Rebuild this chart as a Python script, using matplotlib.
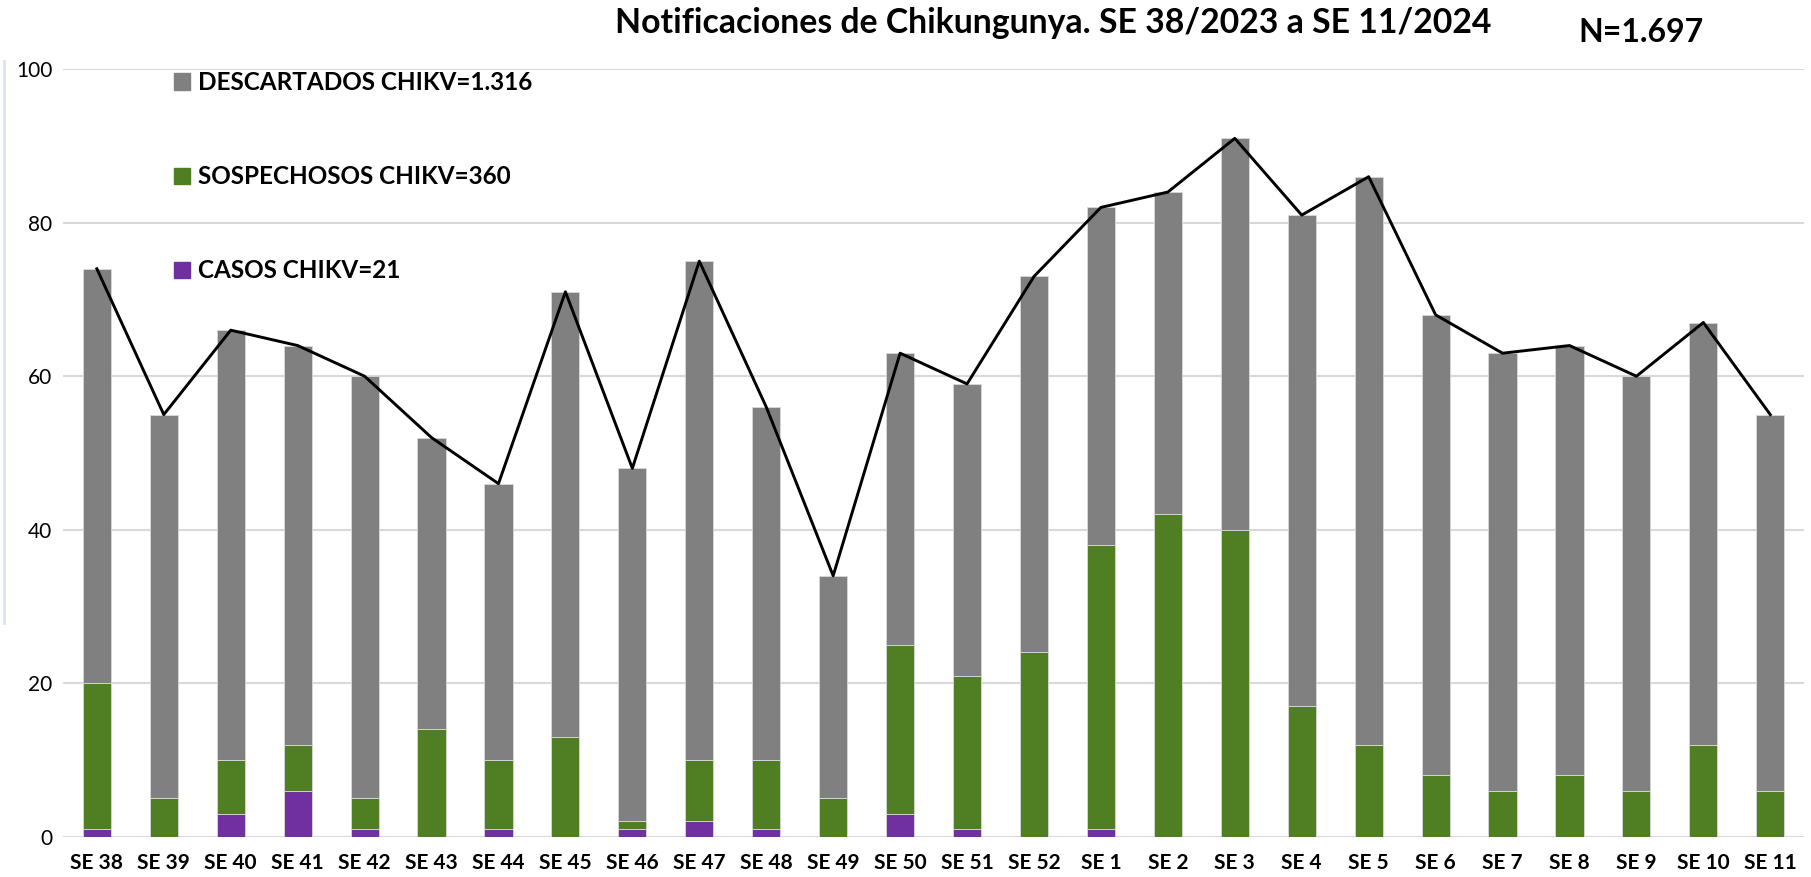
import matplotlib
matplotlib.use("Agg")
from matplotlib import pyplot as plt
from matplotlib.patches import Patch
from matplotlib.lines import Line2D
import numpy as np

weeks = ["SE 38", "SE 39", "SE 40", "SE 41", "SE 42", "SE 43", "SE 44", "SE 45",
         "SE 46", "SE 47", "SE 48", "SE 49", "SE 50", "SE 51", "SE 52", "SE 1",
         "SE 2", "SE 3", "SE 4", "SE 5", "SE 6", "SE 7", "SE 8", "SE 9", "SE 10", "SE 11"]
casos = [1, 0, 3, 6, 1, 0, 1, 0, 1, 2, 1, 0, 3, 1, 0, 1,
         0, 0, 0, 0, 0, 0, 0, 0, 0, 0]
sospechosos = [19, 5, 7, 6, 4, 14, 9, 13, 1, 8, 9, 5, 22, 20, 24, 37,
               42, 40, 17, 12, 8, 6, 8, 6, 12, 6]
totales = [74, 55, 66, 64, 60, 52, 46, 71, 48, 75, 56, 34, 63, 59, 73, 82,
           84, 91, 81, 86, 68, 63, 64, 60, 67, 55]
descartados = [t - s - c for t, s, c in zip(totales, sospechosos, casos)]

GRAY = "#808080"
GREEN = "#507E22"
PURPLE = "#7030A0"

plt.rcParams['font.family'] = ['Lato', 'DejaVu Sans']


def plot_chart():
    fig = plt.figure(figsize=(18.11, 8.77), dpi=100)
    ax = fig.add_axes([0.035, 0.046, 0.961, 0.875])
    x = np.arange(len(weeks))
    w = 0.42
    edge = dict(edgecolor="#d9d9d9", linewidth=0.6)
    ax.bar(x, casos, w, color=PURPLE, zorder=3, **edge)
    ax.bar(x, sospechosos, w, bottom=casos, color=GREEN, zorder=3, **edge)
    bottom2 = [c + s for c, s in zip(casos, sospechosos)]
    ax.bar(x, descartados, w, bottom=bottom2, color=GRAY, zorder=3, **edge)
    # linea del total semanal
    ax.plot(x, totales, color="black", linewidth=2.1, zorder=4)

    ax.set_xlim(-0.5, len(weeks) - 0.5)
    ax.set_ylim(0, 100)
    ax.set_yticks(range(0, 101, 20))
    ax.grid(axis="y", color="#d9d9d9", linewidth=1.5, zorder=0)
    for s in ax.spines.values():
        s.set_visible(False)
    ax.tick_params(length=0)
    ax.tick_params(axis="y", labelsize=15, pad=8)
    ax.set_xticks(x)
    ax.set_xticklabels(weeks, fontsize=15, fontweight="bold")
    ax.tick_params(axis="x", pad=12)

    handles = [Patch(color=GRAY), Patch(color=GREEN), Patch(color=PURPLE)]
    labels = ["DESCARTADOS CHIKV=1.316", "SOSPECHOSOS CHIKV=360", "CASOS CHIKV=21"]
    ax.legend(handles, labels, loc="upper left", bbox_to_anchor=(0.096, 0.919),
              bbox_transform=fig.transFigure, frameon=False,
              prop=dict(size=17.5, weight="bold"), labelspacing=2.93,
              handlelength=0.65, handleheight=0.65, handletextpad=0.35,
              borderpad=0, borderaxespad=0)

    fig.text(0.5815, 0.974, "Notificaciones de Chikungunya. SE 38/2023 a SE 11/2024",
             ha="center", va="center", fontsize=24.3, fontweight="bold")
    fig.text(0.906, 0.963, "N=1.697", ha="center", va="center",
             fontsize=23, fontweight="bold")
    fig.add_artist(Line2D([0.002, 0.002], [0.29, 0.93], color="#dae3f3",
                          linewidth=2, transform=fig.transFigure))
    fig.savefig("out.png", dpi=100)


def main():
    plot_chart()


if __name__ == "__main__":
    main()
